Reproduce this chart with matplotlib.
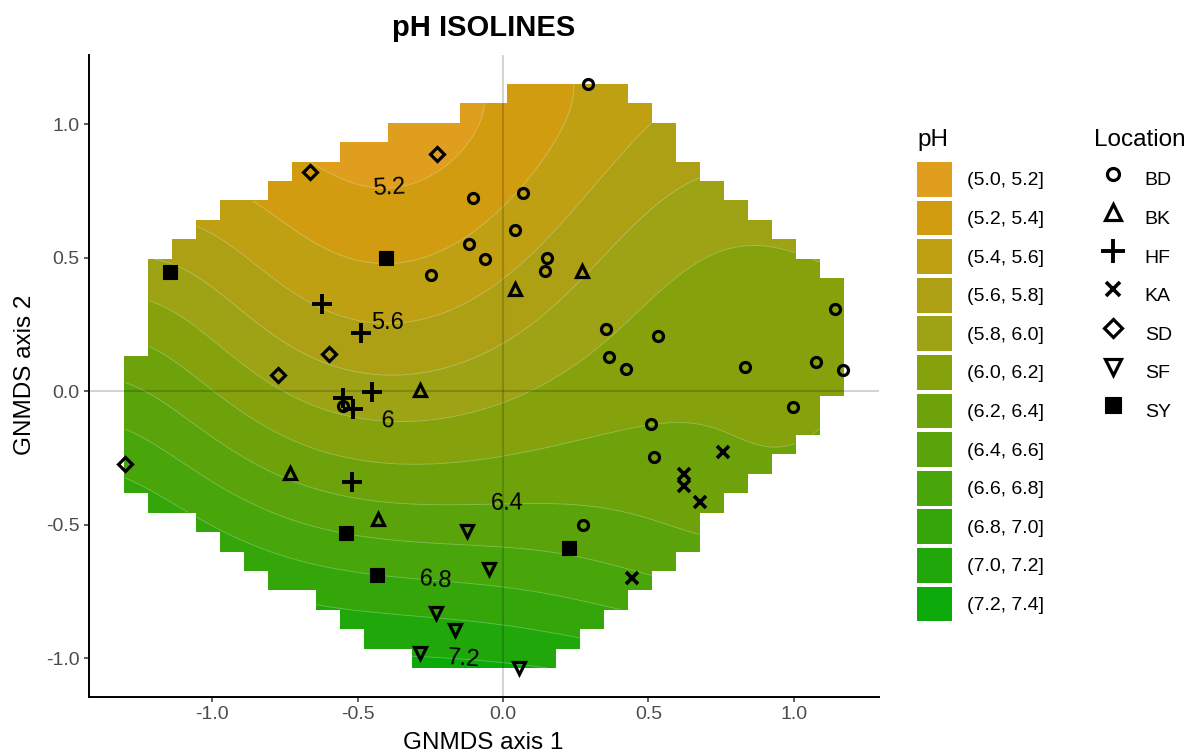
import numpy as np
import matplotlib
matplotlib.use("Agg")
import matplotlib.pyplot as plt
from matplotlib.path import Path
from matplotlib.patches import Patch
from matplotlib.lines import Line2D

plt.rcParams['font.family'] = ['Liberation Sans', 'DejaVu Sans']
plt.rcParams['axes.unicode_minus'] = False

# GNMDS sample scores per location
bd_x = [0.293, -0.105, 0.069, 0.040, -0.118, -0.062, 0.152, 0.143, -0.248, 0.353, 0.365,
        0.423, 0.531, 0.831, 1.075, 1.141, 1.169, 0.996, 0.508, 0.519, 0.276, -0.549]
bd_y = [1.150, 0.723, 0.744, 0.604, 0.551, 0.495, 0.499, 0.449, 0.434, 0.233, 0.129,
        0.084, 0.208, 0.093, 0.111, 0.307, 0.081, -0.058, -0.122, -0.245, -0.501, -0.055]
bk_x = [0.272, 0.042, -0.286, -0.731, -0.429]
bk_y = [0.452, 0.383, 0.006, -0.305, -0.477]
hf_x = [-0.622, -0.488, -0.450, -0.549, -0.515, -0.521]
hf_y = [0.328, 0.218, -0.004, -0.025, -0.066, -0.340]
ka_x = [0.756, 0.621, 0.621, 0.678, 0.444]
ka_y = [-0.228, -0.311, -0.353, -0.415, -0.698]
sd_x = [-0.664, -0.226, -0.599, -0.773, -1.300]
sd_y = [0.822, 0.889, 0.140, 0.061, -0.271]
sf_x = [-0.125, -0.047, -0.230, -0.165, -0.286, 0.056]
sf_y = [-0.522, -0.665, -0.828, -0.893, -0.978, -1.035]
sy_x = [-1.145, -0.404, -0.541, -0.433, 0.226]
sy_y = [0.447, 0.499, -0.529, -0.689, -0.585]

locations = ["BD", "BK", "HF", "KA", "SD", "SF", "SY"]

# pH readings across the ordination space: points on the isolines ...
iso_level = [5.2] * 7 + [5.4] * 10 + [5.6] * 10 + [5.8] * 9 + [6.0] * 9 + [6.2] * 11 \
    + [6.4] * 8 + [6.6] * 7 + [6.8] * 7 + [7.0] * 4 + [7.2] * 2
iso_x = [-0.724, -0.524, -0.387, -0.274, -0.181, -0.122, -0.067,
         -0.868, -0.731, -0.638, -0.411, -0.294, -0.122, -0.009, 0.094, 0.153, 0.256,
         -1.05, -0.93, -0.655, -0.445, -0.328, -0.157, 0.001, 0.153, 0.325, 0.507,
         -1.112, -0.885, -0.655, -0.500, -0.328, 0.001, 0.208, 0.438, 0.672,
         -1.215, -0.999, -0.655, -0.397, -0.078, 0.187, 0.266, 0.610, 0.953,
         -1.215, -0.999, -0.700, -0.5, -0.078, 0.208, 0.350, 0.497, 0.724, 0.895, 0.998,
         -1.298, -0.999, -0.655, -0.5, -0.078, 0.266, 0.497, 0.593,
         -1.298, -0.999, -0.793, -0.5, -0.078, 0.208, 0.438,
         -1.298, -0.593, -0.5, -0.232, -0.078, 0.153, 0.428,
         -0.593, -0.5, -0.078, 0.266,
         -0.28, -0.078]
iso_y = [0.858, 0.791, 0.769, 0.803, 0.878, 1.005, 1.079,
         0.717, 0.616, 0.578, 0.474, 0.485, 0.567, 0.691, 0.818, 0.929, 1.153,
         0.631, 0.53, 0.332, 0.268, 0.257, 0.306, 0.380, 0.541, 0.743, 1.016,
         0.467, 0.279, 0.118, 0.081, 0.070, 0.156, 0.369, 0.578, 0.799,
         0.350, 0.193, -0.042, -0.113, -0.057, 0.119, 0.205, 0.467, 0.568,
         0.149, 0.006, -0.218, -0.27, -0.255, -0.192, -0.198, -0.207, -0.169, -0.117, -0.068,
         0.033, -0.169, -0.341, -0.41, -0.424, -0.443, -0.491, -0.525,
         -0.150, -0.319, -0.442, -0.55, -0.574, -0.592, -0.656,
         -0.323, -0.667, -0.68, -0.708, -0.716, -0.741, -0.809,
         -0.809, -0.83, -0.865, -0.954,
         -0.98, -1.010]
# ... and inside the bands, away from any isoline
band_level = [6.08, 6.14, 6.13, 6.19, 6.13, 6.04, 5.50, 5.12, 5.14, 7.23, 7.22]
band_x = [1.141, 1.169, 1.075, 0.996, 0.830, 0.900, 0.400, -0.300, -0.500, 0.100, -0.100]
band_y = [0.307, 0.081, 0.111, -0.058, 0.090, 0.450, 1.080, 0.950, 0.870, -1.030, -1.030]

ph_breaks = [5.0, 5.2, 5.4, 5.6, 5.8, 6.0, 6.2, 6.4, 6.6, 6.8, 7.0, 7.2, 7.4]
ph_colors = ['#E09E1E', '#D29C10', '#BFA012', '#ADA015', '#9DA315', '#85A20C',
             '#6EA20A', '#5BA30A', '#48A50A', '#34A60A', '#20A80A', '#0BAA0A']
label_levels = [5.2, 5.6, 6.0, 6.4, 6.8, 7.2]
label_pos = [(-0.393, 0.768), (-0.397, 0.249), (-0.397, -0.113),
             (0.015, -0.423), (-0.232, -0.705), (-0.136, -0.992)]

marker_style = {
    "BD": dict(marker='o', ms=7.2, mew=2.3),
    "BK": dict(marker='^', ms=9.2, mew=2.3),
    "HF": dict(marker='+', ms=14.0, mew=2.8),
    "KA": dict(marker='x', ms=8.8, mew=2.6),
    "SD": dict(marker='D', ms=7.6, mew=2.3),
    "SF": dict(marker='v', ms=9.2, mew=2.3),
    "SY": dict(marker='s', ms=9.5, mew=0.8, mfc='black'),
}
loc_xy = {"BD": (bd_x, bd_y), "BK": (bk_x, bk_y), "HF": (hf_x, hf_y), "KA": (ka_x, ka_y),
          "SD": (sd_x, sd_y), "SF": (sf_x, sf_y), "SY": (sy_x, sy_y)}


def design(x, y, deg=5):
    return np.stack([x ** i * y ** j for i in range(deg + 1) for j in range(deg + 1 - i)], axis=-1)


def convex_hull(pts):
    pts = sorted(map(tuple, pts))

    def cross(o, a, b):
        return (a[0] - o[0]) * (b[1] - o[1]) - (a[1] - o[1]) * (b[0] - o[0])
    lower, upper = [], []
    for p in pts:
        while len(lower) >= 2 and cross(lower[-2], lower[-1], p) <= 0:
            lower.pop()
        lower.append(p)
    for p in reversed(pts):
        while len(upper) >= 2 and cross(upper[-2], upper[-1], p) <= 0:
            upper.pop()
        upper.append(p)
    return np.array(lower[:-1] + upper[:-1])


# smooth pH surface over the ordination space
fit_x = np.array(iso_x + band_x)
fit_y = np.array(iso_y + band_y)
fit_v = np.array(iso_level + band_level)
coef, *_ = np.linalg.lstsq(design(fit_x, fit_y), fit_v, rcond=None)

all_x = np.concatenate([loc_xy[k][0] for k in locations])
all_y = np.concatenate([loc_xy[k][1] for k in locations])

# 31 x 31 grid, cells kept when any corner lies inside the hull of the samples
n_grid = 31
gx = np.linspace(all_x.min(), all_x.max(), n_grid)
gy = np.linspace(all_y.min(), all_y.max(), n_grid)
GX, GY = np.meshgrid(gx, gy)
hull = convex_hull(np.c_[all_x, all_y])
inside = Path(np.vstack([hull, hull[:1]])).contains_points(np.c_[GX.ravel(), GY.ravel()]).reshape(GX.shape)
cell = inside[:-1, :-1] | inside[1:, :-1] | inside[:-1, 1:] | inside[1:, 1:]

sub = 4
fx = np.linspace(gx[0], gx[-1], (n_grid - 1) * sub + 1)
fy = np.linspace(gy[0], gy[-1], (n_grid - 1) * sub + 1)
FX, FY = np.meshgrid(fx, fy)
keep = np.zeros(FX.shape, bool)
for j in range(n_grid - 1):
    for i in range(n_grid - 1):
        if cell[j, i]:
            keep[j * sub:(j + 1) * sub + 1, i * sub:(i + 1) * sub + 1] = True
Z = design(FX, FY) @ coef
Z = np.clip(Z, ph_breaks[0] + 1e-3, ph_breaks[-1] - 1e-3)
Z = np.ma.masked_where(~keep, Z)

W, H = 1191, 754
fig = plt.figure(figsize=(W / 100, H / 100), dpi=100)
ax = fig.add_axes([89 / W, 1 - 697 / H, (879 - 89) / W, (697 - 55) / H])

xpad = 0.05 * (all_x.max() - all_x.min())
ypad = 0.05 * (all_y.max() - all_y.min())
ax.set_xlim(all_x.min() - xpad, all_x.max() + xpad)
ax.set_ylim(all_y.min() - ypad, all_y.max() + ypad)

ax.contourf(FX, FY, Z, levels=ph_breaks, colors=ph_colors, corner_mask=False, zorder=1)
ax.contour(FX, FY, Z, levels=ph_breaks[1:-1], colors=[(1, 1, 1, 0.3)],
           linewidths=0.6, corner_mask=False, zorder=1.5)
# invisible set carrying only the labelled isolines
label_cs = ax.contour(FX, FY, Z, levels=label_levels, colors=[(0, 0, 0, 0)],
                      linewidths=0, corner_mask=False)
ax.clabel(label_cs, inline=False, fontsize=17, colors='black',
          fmt=lambda v: f"{v:g}", manual=label_pos)

ax.axhline(0, color='black', alpha=0.17, lw=1.5, zorder=2)
ax.axvline(0, color='black', alpha=0.17, lw=1.5, zorder=2)

for loc in locations:
    st = dict(marker_style[loc])
    st.setdefault('mfc', 'none')
    ax.plot(*loc_xy[loc], ls='none', mec='black', color='black', zorder=4, **st)

ax.spines[['top', 'right']].set_visible(False)
for s in ('left', 'bottom'):
    ax.spines[s].set_linewidth(1.4)
ticks = [-1.0, -0.5, 0.0, 0.5, 1.0]
ax.set_xticks(ticks)
ax.set_yticks(ticks)
ax.set_xticklabels([f"{t:.1f}" for t in ticks])
ax.set_yticklabels([f"{t:.1f}" for t in ticks])
ax.tick_params(length=3.6, width=1.1, color='#333333', labelcolor='#4D4D4D',
               labelsize=14, pad=3)

ax.set_title("pH ISOLINES", fontsize=21, fontweight='bold', pad=14)
fig.text(483.5 / W, 1 - 749 / H, "GNMDS axis 1", fontsize=17.5, ha='center', va='baseline')
fig.text(31 / W, 1 - 375 / H, "GNMDS axis 2", fontsize=17.5, rotation=90,
         ha='center', va='baseline', rotation_mode='anchor')

# legends
fs_leg = 14
ph_handles = [Patch(facecolor=c, edgecolor='none') for c in ph_colors]
ph_labels = [f"({a:.1f}, {b:.1f}]" for a, b in zip(ph_breaks[:-1], ph_breaks[1:])]
fig.legend(ph_handles, ph_labels, loc='upper left', bbox_to_anchor=(917 / W, 1 - 162 / H),
           frameon=False, fontsize=fs_leg, borderpad=0, borderaxespad=0,
           handlelength=1.79, handleheight=2.37, labelspacing=0.2, handletextpad=0.76)
loc_handles = []
for loc in locations:
    st = dict(marker_style[loc])
    st.setdefault('mfc', 'none')
    st['ms'] = st['ms'] * 1.2
    loc_handles.append(Line2D([], [], ls='none', mec='black', color='black', **st))
fig.legend(loc_handles, locations, loc='upper left', bbox_to_anchor=(1095.5 / W, 1 - 162 / H),
           frameon=False, fontsize=fs_leg, borderpad=0, borderaxespad=0,
           handlelength=1.79, handleheight=2.37, labelspacing=0.2, handletextpad=0.74)
fig.text(917 / W, 1 - 146 / H, "pH", fontsize=17.5, va='baseline')
fig.text(1094 / W, 1 - 146 / H, "Location", fontsize=17.5, va='baseline')

fig.savefig("out.png", dpi=100)
